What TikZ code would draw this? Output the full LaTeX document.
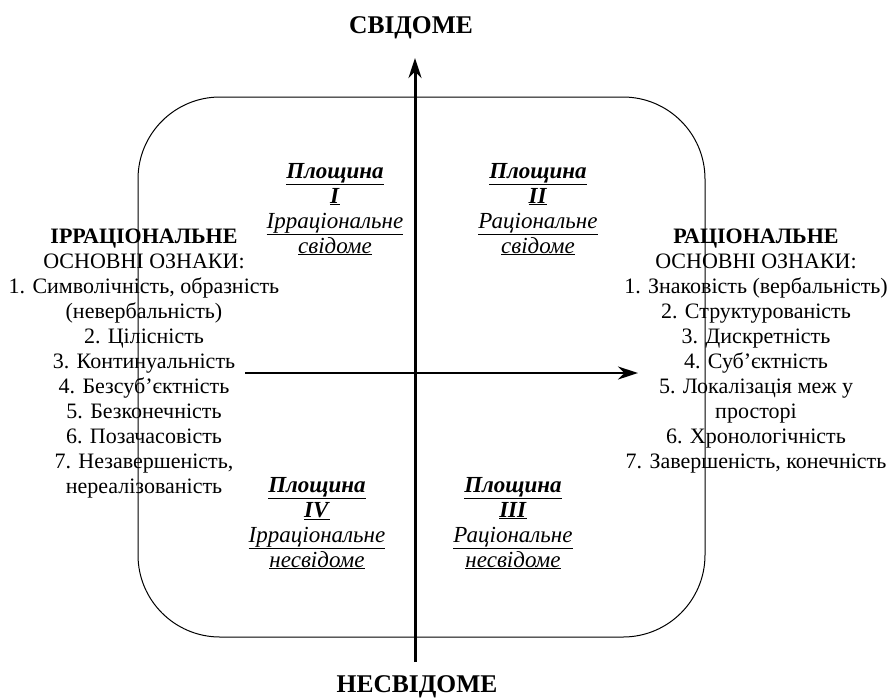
\documentclass[tikz,border=0pt]{standalone}
\usepackage{fontspec}
\setmainfont{Liberation Serif}
\usetikzlibrary{arrows.meta}
\tikzset{
  txt/.style={align=center, anchor=base, inner sep=0pt, font=\fontsize{22}{25}\selectfont},
  qtxt/.style={align=center, anchor=base, inner sep=0pt, font=\fontsize{23}{25}\selectfont},
  ttl/.style={anchor=base, inner sep=0pt, font=\fontsize{25.5}{25}\selectfont\bfseries},
  frame/.style={draw, line width=1pt, rounded corners=82pt},
  axis/.style={draw, -{Stealth[length=20pt,width=13pt]}},
}
\newcommand{\pbi}[1]{\underline{\textbf{\textit{#1}}}}
\newcommand{\pit}[1]{\underline{\textit{#1}}}
\begin{document}
\begin{tikzpicture}[x=1pt,y=-1pt]
\useasboundingbox (0,0) rectangle (891,697);
\path[frame] (138,97) rectangle (705,637);
\coordinate (vb) at (415,662);
\coordinate (vt) at (415,58);
\coordinate (hl) at (245,373);
\coordinate (hr) at (638,373);
\path[axis, line width=3pt] (vb) -- (vt);
\path[axis, line width=2pt] (hl) -- (hr);
\node[ttl] (top) at (411,33) {СВІДОМЕ};
\node[ttl] (bot) at (417,692) {НЕСВІДОМЕ};
\node[txt] (left) at (144,493) {\textbf{ІРРАЦІОНАЛЬНЕ}\\ОСНОВНІ ОЗНАКИ:\\1. Символічність, образність\\(невербальність)\\2. Цілісність\\3. Континуальність\\4. Безсуб’єктність\\5. Безконечність\\6. Позачасовість\\7. Незавершеність,\\нереалізованість};
\node[txt] (right) at (756,468) {\textbf{РАЦІОНАЛЬНЕ}\\ОСНОВНІ ОЗНАКИ:\\1. Знаковість (вербальність)\\2. Структурованість\\3. Дискретність\\4. Суб’єктність\\5. Локалізація меж у\\просторі\\6. Хронологічність\\7. Завершеність, конечність};
\node[qtxt] (q1) at (335,253) {\pbi{Площина}\\\pbi{I}\\\pit{Ірраціональне}\\\pit{свідоме}};
\node[qtxt] (q2) at (538,253) {\pbi{Площина}\\\pbi{II}\\\pit{Раціональне}\\\pit{свідоме}};
\node[qtxt] (q4) at (317,567) {\pbi{Площина}\\\pbi{IV}\\\pit{Ірраціональне}\\\pit{несвідоме}};
\node[qtxt] (q3) at (513,567) {\pbi{Площина}\\\pbi{III}\\\pit{Раціональне}\\\pit{несвідоме}};
\end{tikzpicture}
\end{document}
